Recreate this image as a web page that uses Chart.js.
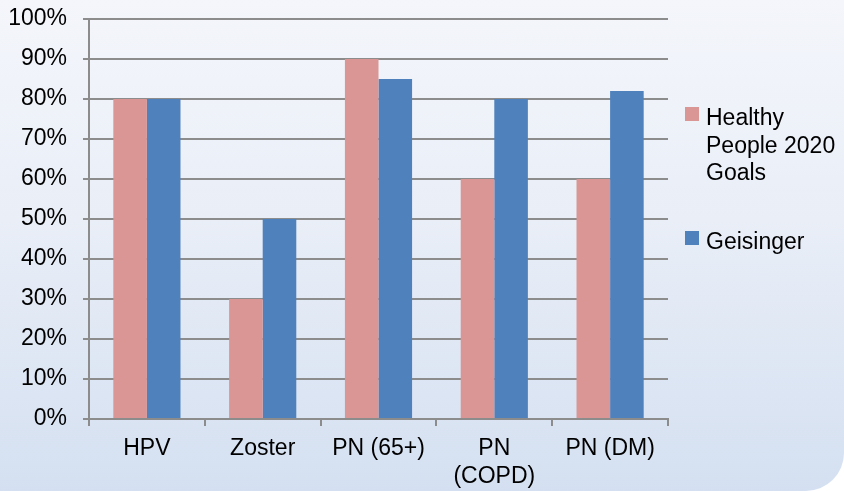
<!DOCTYPE html>
<html>
<head>
<meta charset="utf-8">
<script src="https://cdn.jsdelivr.net/npm/chart.js@4/dist/chart.umd.min.js"></script>
<style>
  html, body { margin: 0; padding: 0; background: #ffffff; }
  #wrap {
    position: relative; width: 844px; height: 491px; overflow: hidden;
    background: linear-gradient(to bottom, #F4F6FB 0%, #E9EEF7 45%, #D4E0F1 100%);
    border-bottom-right-radius: 38px;
    font-family: "Liberation Sans", Arial, sans-serif;
  }
  #chart { position: absolute; left: 0; top: 0; }
  .lg { position: absolute; left: 685px; width: 160px; }
  .lg .sw { position: absolute; left: 0; width: 14px; height: 14px; }
  .lg .tx { position: absolute; left: 21px; width: 138px; font-size: 23px; line-height: 27.6px; color: #000; }
</style>
</head>
<body>
<div id="wrap">
  <canvas id="chart" width="844" height="491"></canvas>
  <div id="legend"></div>
</div>
<script>
const categories = ['HPV', 'Zoster', 'PN (65+)', ['PN', '(COPD)'], 'PN (DM)'];
const seriesNames = ['Healthy People 2020 Goals', 'Geisinger'];
const healthyPeople2020 = [80, 30, 90, 60, 60];
const geisinger = [80, 50, 85, 80, 82];
const yTicks = [0, 10, 20, 30, 40, 50, 60, 70, 80, 90, 100];
const seriesColors = ['#D99694', '#4F81BD'];

const FONT = { family: '"Liberation Sans", Arial, sans-serif', size: 23, lineHeight: 1.2 };
const GRID = '#8C8C8C';

function zeroPad(s) { s.paddingTop = 0; s.paddingBottom = 0; s.paddingLeft = 0; s.paddingRight = 0; }

const ctx = document.getElementById('chart').getContext('2d');
const chart = new Chart(ctx, {
  type: 'bar',
  data: {
    labels: categories,
    datasets: [
      { label: seriesNames[0], data: healthyPeople2020, backgroundColor: seriesColors[0] },
      { label: seriesNames[1], data: geisinger, backgroundColor: seriesColors[1] }
    ]
  },
  options: {
    responsive: false,
    animation: false,
    devicePixelRatio: 1,
    layout: { padding: { top: 19, right: 176, bottom: 0, left: 0 } },
    datasets: { bar: { categoryPercentage: 0.58, barPercentage: 1.0 } },
    plugins: { legend: { display: false }, tooltip: { enabled: false } },
    scales: {
      x: {
        grid: { offset: true, drawOnChartArea: false, drawTicks: true, tickLength: 7, color: GRID, tickColor: GRID, lineWidth: 2, tickWidth: 2 },
        border: { display: true, color: GRID, width: 2 },
        ticks: { color: '#000', font: FONT, padding: 9, maxRotation: 0, autoSkip: false },
        afterFit: (s) => { s.height = 72; zeroPad(s); }
      },
      y: {
        min: 0, max: 100,
        afterBuildTicks: (s) => { s.ticks = yTicks.map(v => ({ value: v })); },
        grid: { color: GRID, lineWidth: 2, drawTicks: true, tickLength: 6, tickColor: GRID, tickWidth: 2 },
        border: { display: true, color: GRID, width: 2 },
        ticks: { color: '#000', font: FONT, padding: 16, callback: (v) => v + '%' },
        afterFit: (s) => { s.width = 89; zeroPad(s); }
      }
    }
  }
});

// HTML legend built from series arrays
const legend = document.getElementById('legend');
const legendTops = [104, 228];
seriesNames.forEach((name, i) => {
  const item = document.createElement('div');
  item.className = 'lg';
  item.style.top = legendTops[i] + 'px';
  const sw = document.createElement('div');
  sw.className = 'sw';
  sw.style.background = seriesColors[i];
  sw.style.top = '3px';
  const tx = document.createElement('div');
  tx.className = 'tx';
  tx.textContent = name;
  item.appendChild(sw);
  item.appendChild(tx);
  legend.appendChild(item);
});
</script>
</body>
</html>
